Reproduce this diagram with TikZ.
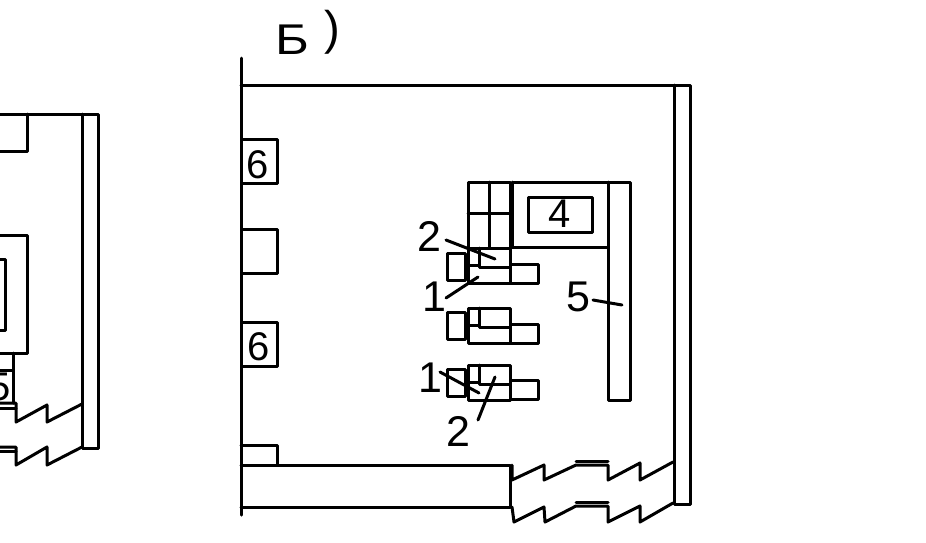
\documentclass[tikz,border=0pt]{standalone}
\usepackage{fontspec}
\setmainfont{Liberation Sans}
\tikzset{
    wall/.style={line width=3pt, line cap=round, line join=round}, % every line of the plan
    mark label/.style={font=\fontsize{43}{43}\selectfont, inner sep=0pt}, % the numbers
    small label/.style={font=\fontsize{40}{40}\selectfont, inner sep=0pt},
}
\def\lowerbreak{(512,507) -- (514,522) -- (544,507) -- (545,522) -- (576,506) -- (608,506) -- (608,522) -- (640,506) -- (640,522) -- (673,503)}
\def\upperbreak{(512,465) -- (512,480) -- (544,465) -- (544,480) -- (576,465) -- (608,465) -- (608,480) -- (640,463) -- (640,480) -- (673,462)}

\begin{document}
\begin{tikzpicture}[x=1pt, y=-1pt]
    \useasboundingbox (0,0) rectangle (926,542);

    % left plan, cut by the page
    \begin{scope}[wall]
        \draw (0,114) -- (98,114) -- (98,448) -- (82,448) -- (82,114);
        \draw (0,151) -- (27,151) -- (27,114);
        \draw (0,235) -- (27,235) -- (27,353) -- (0,353);
        \draw (0,259) -- (5,259) -- (5,330) -- (0,330);
        \draw (13,353) -- (13,403);
        \draw (0,370) -- (13,370);
        \draw (0,403) -- (16,403) -- (16,422) -- (47,405) -- (47,422) -- (82,404);
        \draw (0,408) -- (16,408);
        \draw (0,447) -- (16,447) -- (16,465) -- (47,447) -- (47,465) -- (82,447);
        \draw (0,451) -- (16,451);
    \end{scope}
    \node[small label] (leftfive) at (0,387) {5};

    % right plan, walls
    \begin{scope}[wall]
        \draw (241,58) -- (241,515);
        \draw (241,85) -- (690,85) -- (690,504) -- (674,504) -- (674,85);
        \draw (241,139) rectangle (277,183);
        \draw (241,229) rectangle (277,273);
        \draw (241,322) rectangle (277,366);
        \draw (241,445) -- (277,445) -- (277,465);
        \draw (241,465) -- (510,465) -- (510,507) -- (241,507);
        \draw \upperbreak;
        \draw \lowerbreak;
        \draw (576,461) -- (608,461);
        \draw (576,502) -- (608,502);
    \end{scope}

    % equipment
    \begin{scope}[wall]
        \draw (468,182) rectangle (510,248);
        \draw (489,182) -- (489,248);
        \draw (468,213) -- (510,213);
        \draw (512,182) -- (512,247);
        \draw (512,182) -- (630,182) -- (630,400) -- (608,400) -- (608,182);
        \draw (512,247) -- (608,247);
        \draw (528,197) rectangle (592,232);
        \foreach \gy/\sy/\ry in {248/253/264, 308/312/324, 365/369/380} {
            \draw (447,\sy) rectangle (465,\sy+27);
            \draw (468,\gy) rectangle (510,\gy+35);
            \draw (479,\gy) -- (479,\gy+19) -- (510,\gy+19);
            \draw (468,\gy+17) -- (479,\gy+17);
            \draw (510,\ry) rectangle (538,\ry+19);
        }
    \end{scope}

    % labels
    \node[mark label, anchor=base west] (title) at (275,54) {\scalebox{1.2}[1]{Б}\hspace{15pt}\raisebox{10pt}{\scalebox{1.1}{)}}};
    \node[small label] (sixa) at (258,165) {6};
    \node[small label] (sixb) at (259,347) {6};
    \node[small label] (four) at (560,214) {4};
    \node[mark label] (twoa) at (429,236) {2};
    \node[mark label] (onea) at (434,297) {1};
    \node[mark label] (five) at (578,297) {5};
    \node[mark label] (oneb) at (430,378) {1};
    \node[mark label] (twob) at (458,431) {2};

    % leaders
    \coordinate (twoatip) at (495,259);
    \coordinate (oneatip) at (478,277);
    \coordinate (fivetip) at (622,305);
    \coordinate (onebtip) at (479,393);
    \coordinate (twobtip) at (495,377);
    \draw[wall] (446,240) -- (twoatip);
    \draw[wall] (446,298) -- (oneatip);
    \draw[wall] (593,300) -- (fivetip);
    \draw[wall] (440,372) -- (onebtip);
    \draw[wall] (478,420) -- (twobtip);
\end{tikzpicture}
\end{document}
